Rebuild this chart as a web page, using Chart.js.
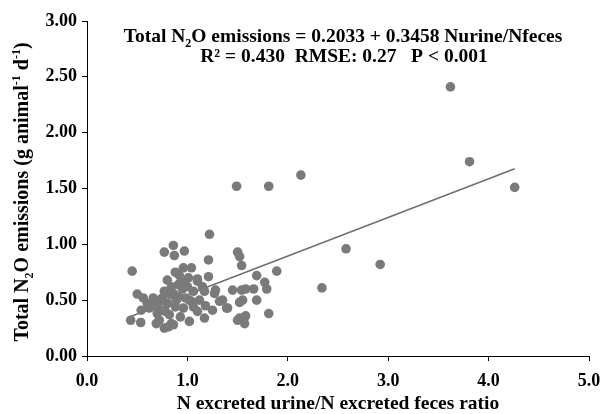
<!DOCTYPE html>
<html>
<head>
<meta charset="utf-8">
<script src="https://cdn.jsdelivr.net/npm/chart.js@4/dist/chart.umd.min.js"></script>
<style>
  html, body { margin: 0; background: #fff; }
</style>
</head>
<body>
<canvas id="n2oChart" width="604" height="414"></canvas>
<script>
  // N urine / N feces ratio (x) and total N2O emissions, g/animal/d (y)
  const ratioX = [
    3.62, 3.81, 4.26, 2.13, 1.81, 1.49, 2.58, 2.92, 2.34, 1.89,
    1.69, 1.77, 1.79, 1.66, 1.58, 1.54, 1.69, 1.55, 1.52, 1.81,
    1.58, 1.52, 1.57, 1.52, 1.50, 1.54,
    1.22, 0.86, 0.77, 0.87, 0.97, 0.45, 1.21, 0.96, 1.04, 0.92,
    1.01, 1.10, 1.21, 0.91, 1.10, 1.17, 1.28, 1.45, 0.50, 0.56,
    0.66, 0.77, 0.86, 0.89, 0.72, 1.02, 1.12, 1.06, 0.96, 1.25,
    1.35, 1.39, 0.54, 0.62, 0.74, 0.82, 0.435, 0.535, 0.72, 0.81,
    0.86, 1.02, 1.17, 1.50,
    0.84, 0.91, 1.04, 1.27, 1.32, 1.40, 1.10, 0.84, 0.77, 0.69,
    0.80, 0.75, 0.68, 0.78, 0.88, 0.95, 1.00, 1.06, 0.83, 0.70,
    0.93, 0.60, 0.97, 1.15, 0.80, 0.88, 0.98, 1.18
  ];
  const n2oY = [
    2.41, 1.74, 1.51, 1.62, 1.52, 1.52, 0.96, 0.82, 0.61, 0.76,
    0.72, 0.66, 0.60, 0.60, 0.60, 0.59, 0.50, 0.50, 0.48, 0.38,
    0.36, 0.34, 0.29, 0.89, 0.93, 0.81,
    1.09, 0.99, 0.93, 0.90, 0.94, 0.76, 0.86, 0.79, 0.79, 0.72,
    0.70, 0.69, 0.71, 0.64, 0.67, 0.58, 0.59, 0.59, 0.555, 0.52,
    0.52, 0.58, 0.56, 0.50, 0.49, 0.50, 0.50, 0.44, 0.43, 0.41,
    0.50, 0.43, 0.41, 0.43, 0.41, 0.37, 0.32, 0.30, 0.32, 0.26,
    0.28, 0.31, 0.34, 0.32,
    0.62, 0.53, 0.49, 0.56, 0.49, 0.43, 0.40, 0.29, 0.25, 0.29,
    0.47, 0.52, 0.45, 0.40, 0.44, 0.60, 0.62, 0.58, 0.55, 0.38,
    0.35, 0.47, 0.66, 0.62, 0.68, 0.75, 0.52, 0.45
  ];
  const fitIntercept = 0.2033;
  const fitSlope = 0.3458;
  const yTicks = [0, 0.5, 1, 1.5, 2, 2.5, 3];

  const points = ratioX.map((x, i) => ({ x: x, y: n2oY[i] }));
  const minX = Math.min(...ratioX);
  const maxX = Math.max(...ratioX);
  const fitPoints = [
    { x: minX, y: fitIntercept + fitSlope * minX },
    { x: maxX, y: fitIntercept + fitSlope * maxX }
  ];

  const serif = '"Liberation Serif", "Times New Roman", serif';

  // draws text with sub/superscript parts, centred on cx
  function drawRich(ctx, segs, size, cx, baseY, angle) {
    const big = 'bold ' + size + 'px ' + serif;
    const small = 'bold ' + Math.round(size * 0.62) + 'px ' + serif;
    let w = 0;
    segs.forEach(s => {
      ctx.font = s[1] ? small : big;
      w += ctx.measureText(s[0]).width;
    });
    ctx.save();
    ctx.translate(cx, baseY);
    ctx.rotate(angle || 0);
    ctx.fillStyle = '#000';
    ctx.textBaseline = 'alphabetic';
    ctx.textAlign = 'left';
    let x = -w / 2;
    segs.forEach(s => {
      ctx.font = s[1] ? small : big;
      let dy = 0;
      if (s[1] === 'sub') dy = size * 0.25;
      if (s[1] === 'sup') dy = -size * 0.4;
      ctx.fillText(s[0], x, dy);
      x += ctx.measureText(s[0]).width;
    });
    ctx.restore();
  }

  const textPlugin = {
    id: 'textPlugin',
    afterDraw(chart) {
      const ctx = chart.ctx;
      drawRich(ctx, [['Total N'], ['2', 'sub'], ['O emissions = 0.2033 + 0.3458 Nurine/Nfeces']], 19.5, 343, 42);
      drawRich(ctx, [['R\u00b2 = 0.430  RMSE: 0.27   P < 0.001']], 19.5, 344, 62);
      drawRich(ctx, [['Total N'], ['2', 'sub'], ['O emissions (g animal'], ['-1', 'sup'], [' d'], ['-1', 'sup'], [')']],
        20, 28, 192, -Math.PI / 2);
    }
  };

  const tickFont = { family: serif, weight: 'bold', size: 18 };

  const ctx = document.getElementById('n2oChart').getContext('2d');
  new Chart(ctx, {
    type: 'scatter',
    data: {
      datasets: [{
        data: points,
        backgroundColor: '#7a7a7a',
        borderColor: '#7a7a7a',
        borderWidth: 0,
        pointRadius: 4.8,
        pointHoverRadius: 4.8
      }, {
        type: 'line',
        data: fitPoints,
        borderColor: '#6e6e6e',
        borderWidth: 1.5,
        pointRadius: 0,
        fill: false
      }]
    },
    options: {
      responsive: false,
      animation: false,
      layout: { padding: { left: 0, right: 15, top: 21, bottom: 0 } },
      plugins: {
        legend: { display: false },
        tooltip: { enabled: false }
      },
      scales: {
        x: {
          type: 'linear',
          min: 0,
          max: 5,
          ticks: { stepSize: 1, color: '#000', font: tickFont, padding: 10, callback: v => v.toFixed(1) },
          grid: { drawOnChartArea: false, color: '#000', tickLength: 5 },
          border: { color: '#000', width: 1 },
          title: {
            display: true,
            text: 'N excreted urine/N excreted feces ratio',
            color: '#000',
            font: { family: serif, weight: 'bold', size: 19.5, lineHeight: 1 },
            padding: { top: 0, bottom: 0 }
          },
          afterFit(scale) {
            scale.height = 58;
            scale.paddingLeft = 0;
            scale.paddingRight = 0;
          }
        },
        y: {
          min: 0,
          max: 3,
          afterBuildTicks(scale) { scale.ticks = yTicks.map(v => ({ value: v })); },
          ticks: { color: '#000', font: tickFont, padding: 5, callback: v => Number(v).toFixed(2) },
          grid: { drawOnChartArea: false, color: '#000', tickLength: 5 },
          border: { color: '#000', width: 1 },
          afterFit(scale) { scale.width = 87; }
        }
      }
    },
    plugins: [textPlugin]
  });
</script>
</body>
</html>
